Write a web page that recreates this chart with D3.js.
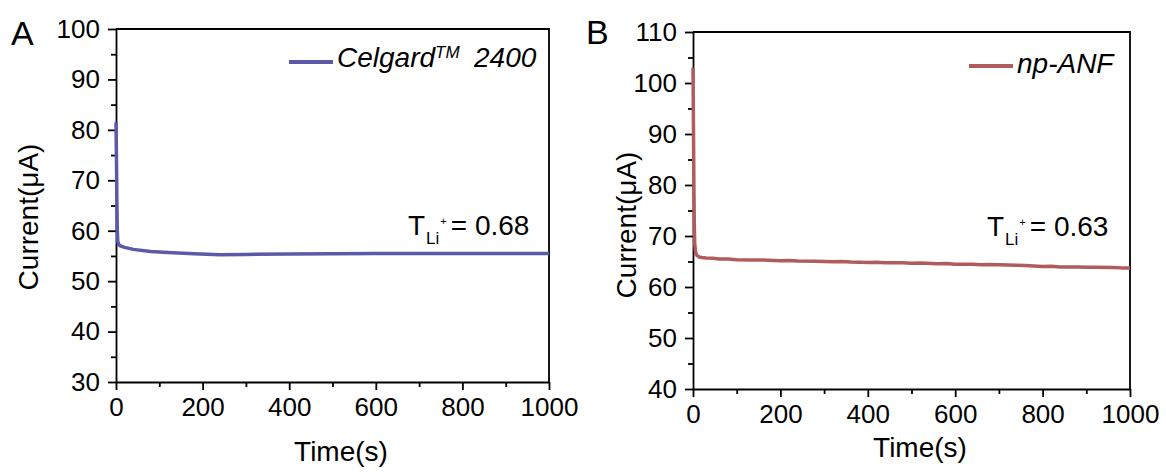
<!DOCTYPE html>
<html>
<head>
<meta charset="utf-8">
<script src="https://cdn.jsdelivr.net/npm/d3@7"></script>
<style>
  html, body { margin: 0; padding: 0; background: #fff; }
  svg { display: block; font-family: Arial, "Liberation Sans", sans-serif; }
</style>
</head>
<body>
<svg id="chart" width="1166" height="472"></svg>
<script>
// Chronoamperometry: current vs. time for the two separators
const timeTicks = [0, 200, 400, 600, 800, 1000];
const timeMinor = [100, 300, 500, 700, 900];

// Panel A – Celgard 2400
const celgardTime = [0, 1, 2, 3, 4, 6, 10, 20, 40, 80, 120, 180, 240, 300, 400, 500, 600, 700, 800, 900, 1000];
const celgardCurrent = [81.5, 75, 66, 60, 58, 57.3, 57.0, 56.7, 56.3, 55.9, 55.7, 55.45, 55.25, 55.3, 55.4, 55.45, 55.5, 55.5, 55.5, 55.5, 55.5];
const celgardTicks = [30, 40, 50, 60, 70, 80, 90, 100];
const celgardMinor = [35, 45, 55, 65, 75, 85, 95];

// Panel B – np-ANF (slightly noisy decay)
const anfTime = [0, 1, 2, 3, 4, 6, 9, 14, 20, 30, 45, 60, 80, 100, 130, 160, 200, 220, 240, 280, 320, 340, 360, 400, 420, 440, 480, 500, 520, 560, 580, 600, 640, 660, 680, 720, 740, 760, 800, 820, 840, 880, 900, 920, 960, 980, 1000];
const anfCurrent = [103, 92, 80, 72, 68.5, 66.8, 66.2, 65.9, 65.8, 65.7, 65.65, 65.5, 65.5, 65.35, 65.3, 65.3, 65.15, 65.2, 65.1, 65.05, 64.95, 65.0, 64.9, 64.8, 64.85, 64.75, 64.75, 64.65, 64.7, 64.55, 64.6, 64.45, 64.45, 64.35, 64.4, 64.3, 64.25, 64.2, 64.0, 64.05, 63.9, 63.9, 63.85, 63.85, 63.8, 63.75, 63.75];
const anfTicks = [40, 50, 60, 70, 80, 90, 100, 110];
const anfMinor = [45, 55, 65, 75, 85, 95, 105];

const panels = [
  {
    letter: "A", letterX: 11, letterY: 45,
    left: 116, right: 549, top: 29, bottom: 382,
    yDomain: [30, 100], yTicks: celgardTicks, yMinor: celgardMinor,
    time: celgardTime, current: celgardCurrent, color: "#5a5aa9",
    yTitleX: 38, yTitleY: 217, xTitleX: 341, xTitleY: 461,
    legend: { x1: 289, x2: 333, y: 62, textX: 337, textY: 67, name: "Celgard", sup: "TM", tailX: 474, tail: "2400" },
    tli: { x: 408, y: 235, value: "0.68" }
  },
  {
    letter: "B", letterX: 586, letterY: 44,
    left: 693, right: 1130, top: 32, bottom: 389,
    yDomain: [40, 110], yTicks: anfTicks, yMinor: anfMinor,
    time: anfTime, current: anfCurrent, color: "#b05c5c",
    yTitleX: 636, yTitleY: 225, xTitleX: 920, xTitleY: 457,
    legend: { x1: 969, x2: 1013, y: 66, textX: 1017, textY: 73, name: "np-ANF", sup: null, tail: null },
    tli: { x: 987, y: 236, value: "0.63" }
  }
];

const svg = d3.select("#chart");

panels.forEach(p => {
  const g = svg.append("g");
  const x = d3.scaleLinear().domain([0, 1000]).range([p.left, p.right]);
  const y = d3.scaleLinear().domain(p.yDomain).range([p.bottom, p.top]);

  // frame: top and right edges
  g.append("path")
    .attr("d", `M${p.left},${p.top}H${p.right}V${p.bottom}`)
    .attr("fill", "none").attr("stroke", "#000").attr("stroke-width", 1.8);

  // bottom axis
  g.append("g").attr("transform", `translate(0,${p.bottom})`)
    .call(d3.axisBottom(x).tickValues(timeTicks).tickSize(8).tickPadding(8).tickSizeOuter(0).tickFormat(d3.format("d")));
  g.append("g").attr("transform", `translate(0,${p.bottom})`)
    .call(d3.axisBottom(x).tickValues(timeMinor).tickSize(5).tickSizeOuter(0).tickFormat(""))
    .select(".domain").remove();

  // left axis
  g.append("g").attr("transform", `translate(${p.left},0)`)
    .call(d3.axisLeft(y).tickValues(p.yTicks).tickSize(8).tickPadding(8).tickSizeOuter(0).tickFormat(d3.format("d")));
  g.append("g").attr("transform", `translate(${p.left},0)`)
    .call(d3.axisLeft(y).tickValues(p.yMinor).tickSize(5).tickSizeOuter(0).tickFormat(""))
    .select(".domain").remove();

  g.selectAll(".domain, .tick line").attr("stroke", "#000").attr("stroke-width", 1.8);
  g.selectAll(".tick text").attr("font-size", 26).attr("fill", "#000")
    .attr("font-family", "Arial, 'Liberation Sans', sans-serif");

  // current trace
  const pts = p.time.map((t, i) => [t, p.current[i]]);
  g.append("path")
    .datum(pts)
    .attr("fill", "none")
    .attr("stroke", p.color)
    .attr("stroke-width", 3.5)
    .attr("stroke-linejoin", "round")
    .attr("d", d3.line().x(d => x(d[0])).y(d => y(d[1])));

  // panel letter
  svg.append("text").attr("x", p.letterX).attr("y", p.letterY)
    .attr("font-size", 34).text(p.letter);

  // axis titles
  svg.append("text")
    .attr("transform", `translate(${p.yTitleX},${p.yTitleY}) rotate(-90)`)
    .attr("text-anchor", "middle").attr("font-size", 28).text("Current(μA)");
  svg.append("text")
    .attr("x", p.xTitleX).attr("y", p.xTitleY)
    .attr("text-anchor", "middle").attr("font-size", 28).text("Time(s)");

  // legend
  const L = p.legend;
  g.append("line").attr("x1", L.x1).attr("x2", L.x2).attr("y1", L.y).attr("y2", L.y)
    .attr("stroke", p.color).attr("stroke-width", 4);
  const lt = g.append("text").attr("x", L.textX).attr("y", L.textY)
    .attr("font-size", 28).attr("font-style", "italic");
  lt.append("tspan").text(L.name);
  if (L.sup) {
    lt.append("tspan").attr("font-size", 17).attr("dy", -9).text(L.sup);
    lt.append("tspan").attr("x", L.tailX).attr("dy", 9).text(L.tail);
  }

  // transference number annotation
  const T = p.tli;
  const tt = g.append("text").attr("x", T.x).attr("y", T.y).attr("font-size", 28);
  tt.append("tspan").text("T");
  tt.append("tspan").attr("font-size", 17).attr("dy", 9).attr("dx", 1).text("Li");
  tt.append("tspan").attr("font-size", 11).attr("dy", -19).attr("dx", 1).text("+");
  tt.append("tspan").attr("dy", 10).attr("dx", 4).text("= " + T.value);
});
</script>
</body>
</html>
